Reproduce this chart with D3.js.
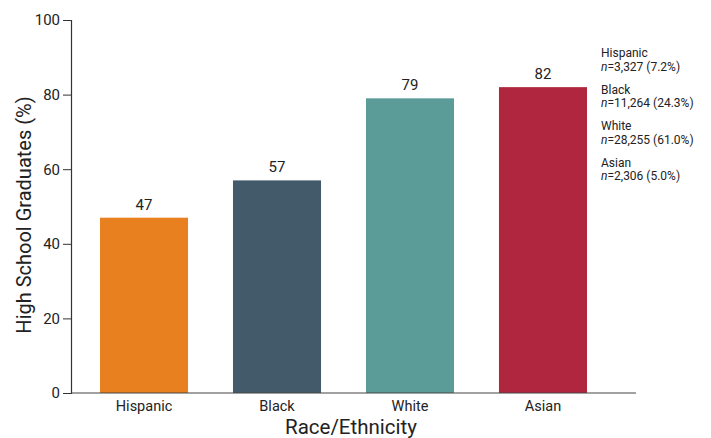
<!DOCTYPE html>
<html><head><meta charset="utf-8">
<script src="https://cdn.jsdelivr.net/npm/d3@7"></script>
<style>body{margin:0;background:#fff}svg{display:block}text{font-family:Roboto,"DejaVu Sans",sans-serif}</style>
</head><body><svg id="c" width="711" height="438"></svg>
<script>
const categories = ["Hispanic","Black","White","Asian"];
const values = [47,57,79,82];
const colors = ["#E8801F","#435A6B","#5B9C98","#B0263E"];
const yTicks = [0,20,40,60,80,100];
const noteGroups = ["Hispanic","Black","White","Asian"];
const noteCounts = ["=3,327 (7.2%)","=11,264 (24.3%)","=28,255 (61.0%)","=2,306 (5.0%)"];

const svg = d3.select("#c");
const y = d3.scaleLinear().domain([0,100]).range([393,20]);
const x = d3.scaleBand().domain(categories).range([71,616]).paddingInner(0.338).paddingOuter(0.218);

// bars
svg.selectAll("rect.bar").data(values).join("rect")
  .attr("x",(d,i)=>x(categories[i])).attr("y",d=>y(d))
  .attr("width",x.bandwidth()).attr("height",d=>y(0)-y(d))
  .attr("fill",(d,i)=>colors[i]);
svg.selectAll("text.val").data(values).join("text")
  .attr("x",(d,i)=>x(categories[i])+x.bandwidth()/2).attr("y",d=>y(d)-8)
  .attr("text-anchor","middle").attr("font-size",15).attr("fill","#222").text(d=>d);

// y axis
const ya = svg.append("g").attr("transform","translate(71,0)")
  .call(d3.axisLeft(y).tickValues(yTicks).tickSize(8).tickPadding(3));
ya.select(".domain").attr("stroke","#333").attr("stroke-width",1.2);
ya.selectAll(".tick line").attr("stroke","#333");
ya.selectAll("text").attr("font-size",15).attr("fill","#222");

// x axis
const xa = svg.append("g").attr("transform","translate(0,393)")
  .call(d3.axisBottom(x).tickSize(0).tickPadding(8));
xa.select(".domain").remove();
xa.append("line").attr("x1",71).attr("x2",636).attr("stroke","#444").attr("stroke-width",1.2);
xa.selectAll("text").attr("font-size",14.5).attr("fill","#222");

// titles
svg.append("text").attr("transform","translate(31,215) rotate(-90)")
  .attr("text-anchor","middle").attr("font-size",20).attr("fill","#222").text("High School Graduates (%)");
svg.append("text").attr("x",351).attr("y",434).attr("text-anchor","middle")
  .attr("font-size",20.5).attr("fill","#222").text("Race/Ethnicity");

// notes
const ng = svg.append("g");
noteGroups.forEach((g,i)=>{
  const by = 57 + i*36.5;
  ng.append("text").attr("x",601).attr("y",by).attr("font-size",12).attr("fill","#222").text(g);
  const t = ng.append("text").attr("x",601).attr("y",by+13.5).attr("font-size",12).attr("fill","#222");
  t.append("tspan").attr("font-style","italic").text("n");
  t.append("tspan").text(noteCounts[i]);
});
</script></body></html>
